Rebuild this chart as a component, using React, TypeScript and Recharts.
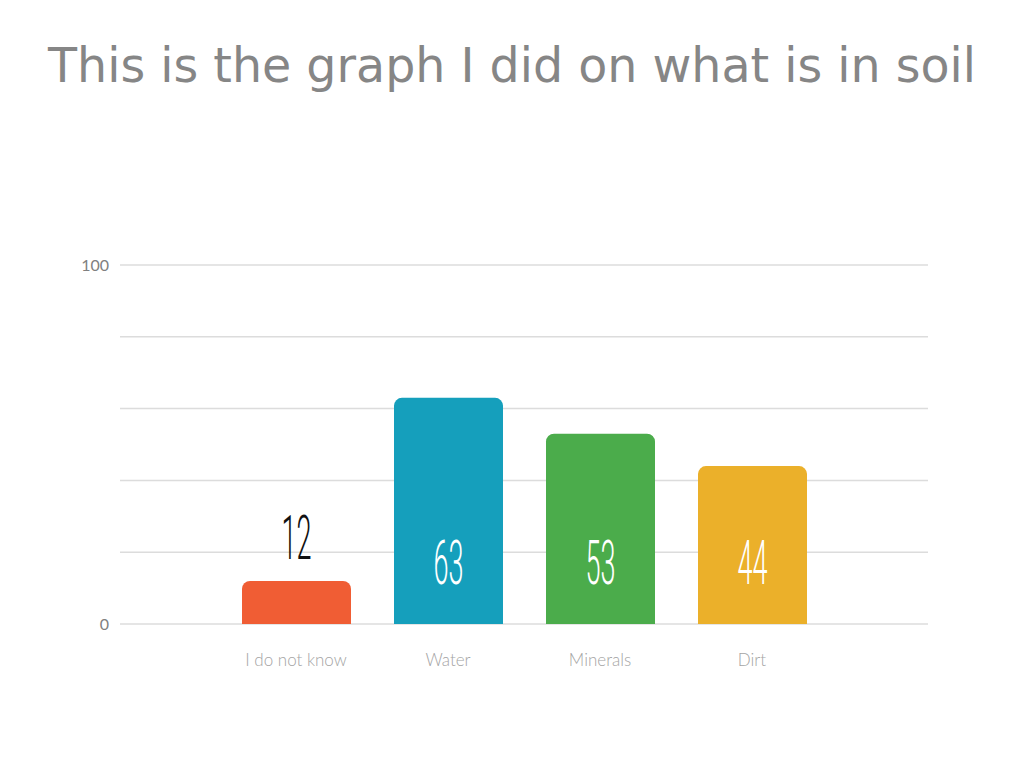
import { BarChart, Bar, XAxis, YAxis, CartesianGrid, Cell, LabelList } from 'recharts';

const categories = ['I do not know', 'Water', 'Minerals', 'Dirt'];
const values = [12, 63, 53, 44];
const colors = ['#F05D34', '#159FBC', '#4BAC4B', '#EBB02A'];
const yTicks = [0, 20, 40, 60, 80, 100];

const data = categories.map((name, i) => ({ name, value: values[i] }));

const ValueLabel = (props: any) => {
  const { x, y, width, height, value } = props;
  const cx = x + width / 2;
  const inside = height > 80;
  const baseline = inside ? y + height - 40 : y - 22;
  const txt = String(value);
  return (
    <text
      x={cx}
      y={baseline}
      textAnchor="middle"
      fill={inside ? '#ffffff' : '#111111'}
      fontFamily="Roboto"
      fontWeight={300}
      fontSize={62}
      textLength={txt.length * 15}
      lengthAdjust="spacingAndGlyphs"
    >
      {txt}
    </text>
  );
};

export default function App() {
  return (
    <div style={{ position: 'absolute', left: 0, top: 0, width: 1024, height: 768, background: '#fff' }}>
      <div
        style={{
          position: 'absolute',
          top: 36,
          left: 0,
          width: 1024,
          textAlign: 'center',
          fontFamily: 'DejaVu Sans',
          fontSize: 47.5,
          color: '#868686',
          lineHeight: '60px',
        }}
      >
        This is the graph I did on what is in soil
      </div>
      <BarChart
        width={1024}
        height={768}
        data={data}
        margin={{ top: 265, right: 96, bottom: 114, left: 0 }}
        barCategoryGap={0}
      >
        <CartesianGrid vertical={false} stroke="#dcdcdc" strokeWidth={1.5} />
        <XAxis
          dataKey="name"
          height={30}
          axisLine={false}
          tickLine={false}
          padding={{ left: 100, right: 100 }}
          tick={{ fill: '#a4a4a4', fontSize: 17, fontFamily: 'Lato', fontWeight: 300 }}
          dy={22}
        />
        <YAxis
          width={120}
          domain={[0, 100]}
          ticks={yTicks}
          axisLine={false}
          tickLine={false}
          tickMargin={5}
          tickFormatter={(v) => (v === 0 || v === 100 ? String(v) : '')}
          tick={{ fill: '#808080', fontSize: 16, fontFamily: 'Lato' }}
        />
        <Bar dataKey="value" barSize={109} radius={[8, 8, 0, 0]} isAnimationActive={false}>
          {data.map((d, i) => (
            <Cell key={d.name} fill={colors[i]} />
          ))}
          <LabelList dataKey="value" content={<ValueLabel />} />
        </Bar>
      </BarChart>
    </div>
  );
}
